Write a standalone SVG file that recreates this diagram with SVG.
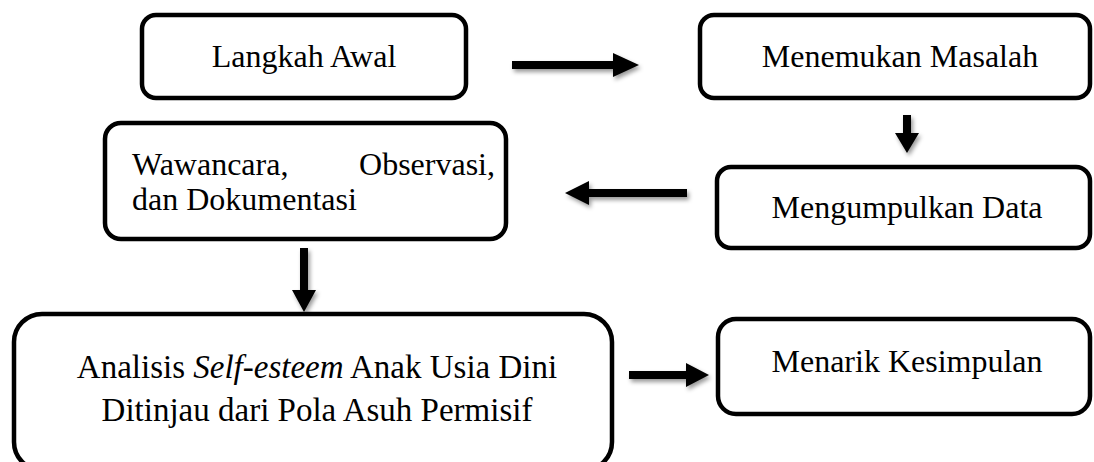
<svg xmlns="http://www.w3.org/2000/svg" width="1094" height="462" viewBox="0 0 1094 462">
<style>
.box{fill:#fff;stroke:#000;stroke-width:4.5}
.t{font-family:"Liberation Serif","Times New Roman",serif;font-size:32px;fill:#000}
.big{font-size:33px}
.arrow{fill:#000;filter:url(#sh)}
</style>
<defs>
<filter id="sh" x="-30%" y="-50%" width="160%" height="200%">
<feDropShadow dx="2" dy="3" stdDeviation="2" flood-color="#000" flood-opacity="0.4"/>
</filter>
</defs>
<rect width="1094" height="462" fill="#fff"/>
<g id="connectors">
<polygon class="arrow" points="512,61 613,61 613,53 639,65 613,77 613,69 512,69"/>
<polygon class="arrow" points="903,115 911,115 911,133 919,133 907,153 895,133 903,133"/>
<polygon class="arrow" points="687,189 589,189 589,181 565,193 589,205 589,197 687,197"/>
<polygon class="arrow" points="300,248 308,248 308,290 316,290 304,312 292,290 300,290"/>
<polygon class="arrow" points="629,371 686,371 686,363 709,375 686,387 686,379 629,379"/>
</g>
<g id="n1">
<rect class="box" x="142" y="15" width="324" height="83" rx="14"/>
<text class="t" x="304" y="67" text-anchor="middle">Langkah Awal</text>
</g>
<g id="n2">
<rect class="box" x="700" y="15" width="390" height="83" rx="14"/>
<text class="t" x="900" y="67" text-anchor="middle">Menemukan Masalah</text>
</g>
<g id="n3">
<rect class="box" x="717" y="167" width="373" height="81" rx="14"/>
<text class="t" x="907" y="218" text-anchor="middle">Mengumpulkan Data</text>
</g>
<g id="n4">
<rect class="box" x="105" y="123" width="401" height="116" rx="16"/>
<text class="t" x="132" y="175">Wawancara,</text>
<text class="t" x="495" y="175" text-anchor="end">Observasi,</text>
<text class="t" x="132" y="210">dan Dokumentasi</text>
</g>
<g id="n5">
<rect class="box" x="14" y="314" width="598" height="156" rx="28"/>
<text class="t big" x="317" y="378" text-anchor="middle">Analisis <tspan font-style="italic">Self-esteem</tspan> Anak Usia Dini</text>
<text class="t big" x="317" y="421" text-anchor="middle">Ditinjau dari Pola Asuh Permisif</text>
</g>
<g id="n6">
<rect class="box" x="718" y="319" width="372" height="95" rx="18"/>
<text class="t" x="907" y="372" text-anchor="middle">Menarik Kesimpulan</text>
</g>
</svg>
